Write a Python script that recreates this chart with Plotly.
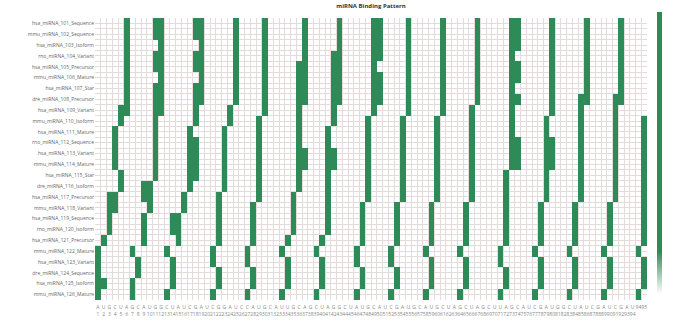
import plotly.graph_objects as go

# Sequences (rows) and aligned positions (columns)
row_labels = [
    "hsa_miRNA_101_Sequence", "mmu_miRNA_102_Sequence", "hsa_miRNA_103_Isoform",
    "rno_miRNA_104_Variant", "hsa_miRNA_105_Precursor", "mmu_miRNA_106_Mature",
    "hsa_miRNA_107_Star", "dre_miRNA_108_Precursor", "hsa_miRNA_109_Variant",
    "mmu_miRNA_110_Isoform", "hsa_miRNA_111_Mature", "rno_miRNA_112_Sequence",
    "hsa_miRNA_113_Variant", "mmu_miRNA_114_Mature", "hsa_miRNA_115_Star",
    "dre_miRNA_116_Isoform", "hsa_miRNA_117_Precursor", "mmu_miRNA_118_Variant",
    "hsa_miRNA_119_Sequence", "rno_miRNA_120_Isoform", "hsa_miRNA_121_Precursor",
    "mmu_miRNA_122_Mature", "hsa_miRNA_123_Variant", "dre_miRNA_124_Sequence",
    "hsa_miRNA_125_Isoform", "mmu_miRNA_126_Mature",
]
nucleotides = ("AUGCUAGCAUGGCUAUCGAUCGGAUCCAUGCAUUGCAGCUAGGCUAUGCAUCGA"
               "UGCAUGCUAGCUAGCUUAGCAUCGAUGGCUAUCGAUCGAU")
positions = list(range(1, 97))

# Matching position (column index) of each motif copy, one entry per sequence
motif_01 = [5, 5, 5, 5, 5, 5, 5, 5, 4, 4, 3, 3, 3, 3, 4, 4, 3, 3, 2, 2, 1, 0, 0, 0, 0, 0]
motif_02 = [11, 11, 11, 11, 11, 11, 11, 11, 10, 10, 10, 10, 10, 10, 10, 9, 9, 9, 8, 8, 8, 6, 7, 7, 6, 6]
motif_03 = [18, 18, 18, 18, 18, 18, 18, 18, 17, 17, 16, 16, 16, 16, 16, 16, 15, 15, 14, 14, 14, 12, 13, 13, 13, 12]
motif_04 = [24, 24, 24, 24, 24, 24, 24, 24, 23, 23, 22, 22, 22, 22, 22, 22, 21, 21, 21, 21, 21, 20, 20, 21, 21, 20]
motif_05 = [29, 29, 29, 29, 29, 29, 29, 29, 29, 28, 28, 28, 28, 28, 28, 28, 28, 27, 27, 27, 27, 26, 26, 27, 27, 26]
motif_06 = [36, 36, 36, 36, 36, 36, 36, 36, 35, 35, 35, 35, 35, 35, 35, 35, 34, 34, 34, 34, 33, 32, 33, 33, 33, 32]
motif_07 = [42, 42, 42, 42, 42, 42, 42, 42, 41, 41, 40, 40, 40, 40, 40, 40, 40, 40, 40, 40, 39, 38, 39, 39, 39, 38]
motif_08 = [48, 48, 48, 48, 48, 48, 48, 48, 48, 47, 47, 47, 47, 47, 47, 47, 47, 46, 46, 46, 46, 45, 45, 46, 46, 45]
motif_09 = [54, 54, 54, 54, 54, 54, 54, 54, 54, 53, 53, 53, 53, 53, 53, 53, 53, 52, 52, 52, 52, 51, 51, 52, 52, 51]
motif_10 = [60, 60, 60, 60, 60, 60, 60, 60, 60, 59, 59, 59, 59, 59, 59, 59, 59, 58, 58, 58, 58, 57, 58, 58, 58, 57]
motif_11 = [66, 66, 66, 66, 66, 66, 66, 66, 65, 65, 65, 65, 65, 65, 65, 65, 65, 64, 64, 64, 64, 63, 64, 64, 64, 63]
motif_12 = [72, 72, 72, 72, 72, 72, 72, 72, 72, 72, 72, 72, 72, 72, 71, 71, 71, 71, 71, 71, 71, 70, 70, 71, 71, 70]
motif_13 = [79, 79, 79, 79, 79, 79, 79, 79, 79, 78, 78, 78, 78, 78, 78, 78, 78, 77, 77, 77, 77, 76, 77, 77, 77, 76]
motif_14 = [85, 85, 85, 85, 85, 85, 85, 85, 84, 84, 84, 84, 84, 84, 84, 84, 84, 83, 83, 83, 83, 82, 83, 83, 83, 82]
motif_15 = [91, 91, 91, 91, 91, 91, 91, 91, 90, 90, 90, 90, 90, 90, 90, 90, 90, 89, 89, 89, 89, 88, 89, 89, 89, 88]

# Additional matched cells (sequence index, column index)
extra_matches = [
    (8, 5), (16, 2), (17, 2), (24, 1),
    (0, 10), (1, 10), (3, 10), (4, 10), (6, 10), (7, 10), (8, 11), (15, 8), (16, 8),
    (0, 17), (1, 17), (3, 17), (4, 17), (6, 17), (7, 17),
    (11, 17), (12, 17), (13, 17), (14, 17), (18, 13), (19, 13),
    (4, 35), (5, 35), (6, 35), (7, 35), (12, 36), (13, 36),
    (3, 41), (4, 41), (5, 41), (6, 41), (7, 41), (12, 41), (13, 41),
    (0, 49), (1, 49), (2, 49), (3, 49), (5, 49), (6, 49), (7, 49),
    (0, 73), (1, 73), (2, 73), (4, 73), (5, 73), (7, 73), (11, 73), (12, 73), (13, 73),
    (11, 79), (12, 79), (13, 79),
    (7, 84), (7, 90),
    (9, 95), (10, 95), (11, 95), (12, 95), (13, 95), (14, 95), (15, 95), (16, 95),
    (17, 95), (18, 95), (19, 95), (20, 95), (21, 94), (22, 95), (23, 95), (24, 95), (25, 94),
]

GREEN = "#2e8b57"
GRID = "#e4dcdc"

motifs = [motif_01, motif_02, motif_03, motif_04, motif_05, motif_06, motif_07, motif_08,
          motif_09, motif_10, motif_11, motif_12, motif_13, motif_14, motif_15]

n_rows, n_cols = len(row_labels), len(positions)
z = [[None] * n_cols for _ in range(n_rows)]
for motif in motifs:
    for r, c in enumerate(motif):
        z[r][c] = 1
for r, c in extra_matches:
    z[r][c] = 1

x_ticktext = [f"{nt}<br>{p}" for nt, p in zip(nucleotides, positions)]

fig = go.Figure(
    go.Heatmap(
        z=z,
        x=list(range(n_cols)),
        y=list(range(n_rows)),
        zmin=0,
        zmax=1,
        colorscale=[[0, "white"], [0.15, GREEN], [1, GREEN]],
        hoverongaps=False,
        colorbar=dict(
            thickness=5, len=1, x=1.018, xanchor="left", xpad=0, ypad=0,
            y=1.02, yanchor="top",
            outlinewidth=0, showticklabels=False, ticks="",
        ),
    )
)

fig.update_layout(
    width=674,
    height=335,
    margin=dict(l=95, r=17, t=12, b=35),
    paper_bgcolor="white",
    plot_bgcolor="white",
    font=dict(family="Open Sans, Arial, sans-serif", color="#666"),
    title=dict(
        text="<b>miRNA Binding Pattern</b>",
        x=0.5, xref="paper", xanchor="center",
        y=0.99, yref="container", yanchor="top",
        font=dict(size=6, color="#333"),
    ),
    xaxis=dict(
        range=[-0.5, n_cols - 0.5],
        tickmode="array",
        tickvals=list(range(n_cols)),
        ticktext=x_ticktext,
        tickangle=0,
        tickfont=dict(size=5, color="#888"),
        ticklabelstandoff=3,
        showgrid=False,
        zeroline=False,
        ticks="",
        minor=dict(tickmode="linear", tick0=-0.5, dtick=1, showgrid=True,
                   gridcolor=GRID, gridwidth=1),
    ),
    yaxis=dict(
        range=[n_rows - 0.5, -0.5],
        tickmode="array",
        tickvals=list(range(n_rows)),
        ticktext=row_labels,
        tickfont=dict(size=5, color="#666"),
        showgrid=True,
        gridcolor=GRID,
        zeroline=False,
        ticks="",
        minor=dict(tickmode="linear", tick0=-0.5, dtick=1, showgrid=True,
                   gridcolor=GRID, gridwidth=1),
    ),
)

fig.write_html("out.html")
